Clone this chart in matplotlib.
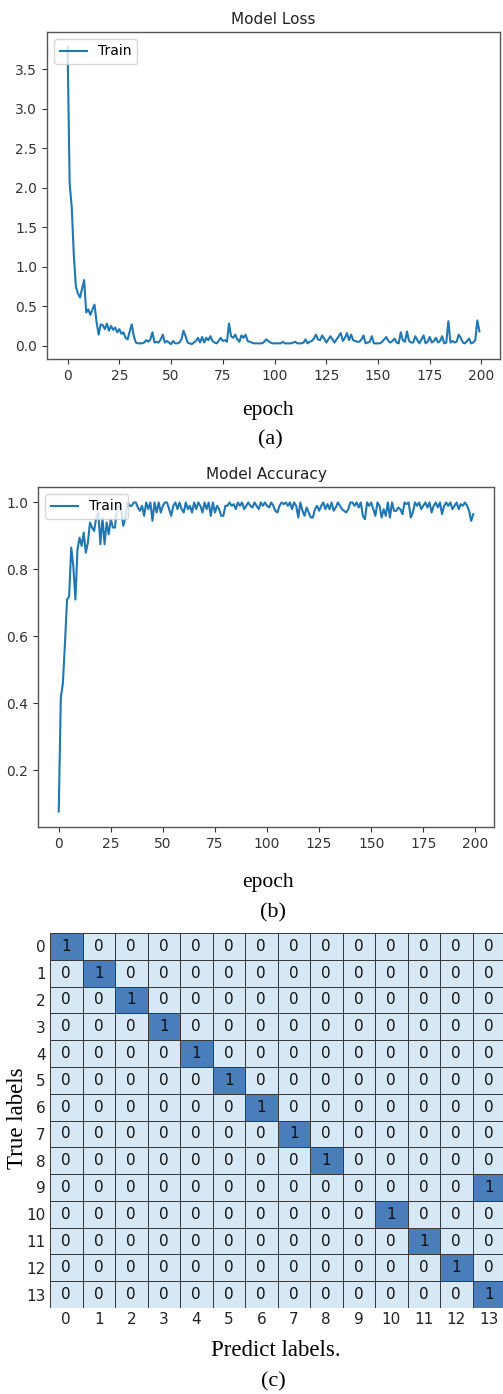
#!/usr/bin/env python3
"""
Training curves (loss / accuracy) + confusion matrix, stacked in one tall figure.
"""

import numpy as np
import matplotlib
matplotlib.use("Agg")
import matplotlib.pyplot as plt
from matplotlib.colors import ListedColormap

# -------------------- DATA --------------------
train_loss = [
    3.78, 2.05, 1.75, 1.15, 0.75, 0.66, 0.61, 0.72, 0.83, 0.42,
    0.46, 0.39, 0.46, 0.52, 0.30, 0.14, 0.27, 0.26, 0.21, 0.28,
    0.19, 0.25, 0.20, 0.23, 0.17, 0.21, 0.15, 0.17, 0.10, 0.08,
    0.18, 0.27, 0.12, 0.04, 0.03, 0.03, 0.03, 0.04, 0.07, 0.05,
    0.08, 0.17, 0.04, 0.05, 0.04, 0.08, 0.14, 0.04, 0.06, 0.04,
    0.02, 0.06, 0.03, 0.03, 0.04, 0.08, 0.19, 0.12, 0.04, 0.03,
    0.02, 0.04, 0.06, 0.10, 0.04, 0.11, 0.04, 0.10, 0.07, 0.12,
    0.06, 0.04, 0.03, 0.06, 0.10, 0.06, 0.07, 0.05, 0.28, 0.12,
    0.10, 0.14, 0.08, 0.05, 0.13, 0.10, 0.14, 0.06, 0.05, 0.04,
    0.03, 0.03, 0.03, 0.03, 0.03, 0.05, 0.08, 0.06, 0.04, 0.03,
    0.03, 0.03, 0.03, 0.03, 0.05, 0.03, 0.03, 0.03, 0.03, 0.04,
    0.05, 0.03, 0.03, 0.03, 0.04, 0.08, 0.03, 0.05, 0.06, 0.09,
    0.14, 0.08, 0.07, 0.13, 0.09, 0.04, 0.08, 0.12, 0.08, 0.04,
    0.08, 0.12, 0.16, 0.06, 0.10, 0.16, 0.07, 0.14, 0.07, 0.06,
    0.05, 0.05, 0.08, 0.13, 0.03, 0.04, 0.05, 0.12, 0.03, 0.03,
    0.03, 0.03, 0.05, 0.08, 0.11, 0.06, 0.04, 0.06, 0.09, 0.04,
    0.03, 0.17, 0.07, 0.05, 0.18, 0.06, 0.04, 0.04, 0.12, 0.07,
    0.03, 0.08, 0.13, 0.03, 0.05, 0.11, 0.04, 0.06, 0.10, 0.04,
    0.06, 0.12, 0.03, 0.04, 0.31, 0.04, 0.06, 0.04, 0.05, 0.14,
    0.10, 0.04, 0.03, 0.06, 0.09, 0.03, 0.04, 0.07, 0.32, 0.18,
]

train_acc = [
    0.077, 0.417, 0.46, 0.58, 0.71, 0.72, 0.865, 0.81, 0.71, 0.86,
    0.895, 0.87, 0.91, 0.85, 0.88, 0.94, 0.925, 0.915, 0.955, 0.97,
    0.875, 0.955, 0.875, 0.94, 0.905, 0.95, 0.925, 0.925, 0.985, 0.99,
    0.975, 0.93, 0.955, 1.0, 0.99, 0.99, 1.0, 1.0, 0.985, 0.975,
    0.99, 0.96, 1.0, 0.98, 1.0, 0.945, 1.0, 0.97, 1.0, 0.97,
    0.99, 1.0, 1.0, 0.98, 0.96, 0.99, 1.0, 0.98, 1.0, 0.98,
    0.97, 1.0, 0.98, 0.99, 0.97, 1.0, 0.98, 1.0, 0.99, 0.97,
    1.0, 0.98, 1.0, 0.96, 1.0, 0.97, 0.99, 0.98, 0.96, 0.96,
    0.99, 0.99, 1.0, 0.99, 0.995, 0.98, 1.0, 0.99, 1.0, 0.98,
    0.99, 1.0, 0.99, 0.985, 1.0, 0.99, 0.98, 1.0, 0.99, 1.0,
    0.99, 0.985, 1.0, 0.99, 0.975, 0.97, 0.99, 1.0, 0.995, 1.0,
    0.99, 1.0, 0.98, 1.0, 0.99, 0.955, 1.0, 0.975, 0.96, 0.985,
    0.97, 0.955, 0.955, 0.98, 0.99, 0.975, 0.99, 1.0, 0.98, 0.995,
    0.98, 1.0, 0.975, 0.985, 1.0, 0.99, 0.98, 0.975, 0.97, 0.98,
    1.0, 1.0, 0.99, 1.0, 0.985, 1.0, 0.96, 0.95, 1.0, 0.99,
    1.0, 0.98, 0.96, 1.0, 0.99, 0.955, 0.98, 0.96, 1.0, 0.955,
    1.0, 0.975, 0.975, 0.985, 0.98, 0.965, 1.0, 0.995, 1.0, 0.955,
    0.97, 1.0, 0.99, 1.0, 0.98, 0.99, 1.0, 0.985, 1.0, 0.97,
    0.99, 1.0, 0.985, 1.0, 0.965, 0.99, 1.0, 0.99, 1.0, 0.98,
    0.99, 1.0, 0.98, 0.995, 0.99, 1.0, 0.99, 0.975, 0.945, 0.965,
]

class_labels = [str(i) for i in range(14)]
# predicted class for each true class (one sample each)
predicted = [0, 1, 2, 3, 4, 5, 6, 7, 8, 13, 10, 11, 12, 13]

# -------------------- STYLE --------------------
W, H = 503, 1394
DPI = 100
SERIF = ["Liberation Serif", "DejaVu Serif"]
SPINE = "#555555"
CM_COLORS = ["#d6e7f6", "#4a7ebb"]


def _px_axes(fig, left, top, right, bottom):
    """axes from pixel box (origin top-left)"""
    return fig.add_axes([left / W, 1 - bottom / H, (right - left) / W, (bottom - top) / H])


def _curve(ax, values, title):
    epochs = np.arange(len(values))
    ax.plot(epochs, values, color="#1f77b4", lw=1.5, label="Train")
    ax.set_title(title, fontsize=11, color="#222222")
    ax.legend(loc="upper left", fontsize=10)
    ax.set_xticks(np.arange(0, 201, 25))
    for s in ax.spines.values():
        s.set_color(SPINE)
        s.set_linewidth(1.0)
    ax.tick_params(labelsize=10, colors="#333333")


def fig_all(out="out.png"):
    fig = plt.figure(figsize=(W / DPI, H / DPI), dpi=DPI)

    # (a) loss
    ax1 = _px_axes(fig, 47, 32, 500, 359)
    _curve(ax1, train_loss, "Model Loss")
    fig.text(268 / W, 1 - 410 / H, "epoch", ha="center", va="center", fontsize=15.5, family=SERIF)
    fig.text(270 / W, 1 - 440 / H, "(a)", ha="center", va="center", fontsize=16, family=SERIF)

    # (b) accuracy
    ax2 = _px_axes(fig, 38, 487, 494, 827)
    _curve(ax2, train_acc, "Model Accuracy")
    fig.text(268 / W, 1 - 883 / H, "epoch", ha="center", va="center", fontsize=15.5, family=SERIF)
    fig.text(273 / W, 1 - 913 / H, "(b)", ha="center", va="center", fontsize=16, family=SERIF)

    # (c) confusion matrix
    n = len(class_labels)
    cm = np.zeros((n, n), dtype=int)
    for t, p in enumerate(predicted):
        cm[t, p] += 1
    ax3 = _px_axes(fig, 50, 933, 505, 1308)
    ax3.pcolormesh(cm, cmap=ListedColormap(CM_COLORS), vmin=0, vmax=1,
                   edgecolors="#3a3a3a", linewidth=0.6)
    ax3.set_xlim(0, n); ax3.set_ylim(n, 0)
    for i in range(n):
        for j in range(n):
            ax3.text(j + 0.5, i + 0.5, str(cm[i, j]), ha="center", va="center",
                     fontsize=11, color="#111111")
    ax3.set_xticks(np.arange(n) + 0.5)
    ax3.set_xticklabels(class_labels)
    ax3.set_yticks(np.arange(n) + 0.5)
    ax3.set_yticklabels(class_labels)
    ax3.tick_params(length=0, labelsize=11, colors="#222222", pad=3)
    for s in ax3.spines.values():
        s.set_visible(False)
    fig.text(18 / W, 1 - 1118 / H, "True labels", rotation=90, ha="center", va="center",
             fontsize=16.5, family=SERIF)
    fig.text(276 / W, 1 - 1350 / H, "Predict labels.", ha="center", va="center",
             fontsize=16.5, family=SERIF)
    fig.text(273 / W, 1 - 1382 / H, "(c)", ha="center", va="center", fontsize=16, family=SERIF)

    fig.savefig(out, dpi=DPI)
    plt.close(fig)
    print(f"[OK] {out}")


if __name__ == "__main__":
    fig_all("out.png")
